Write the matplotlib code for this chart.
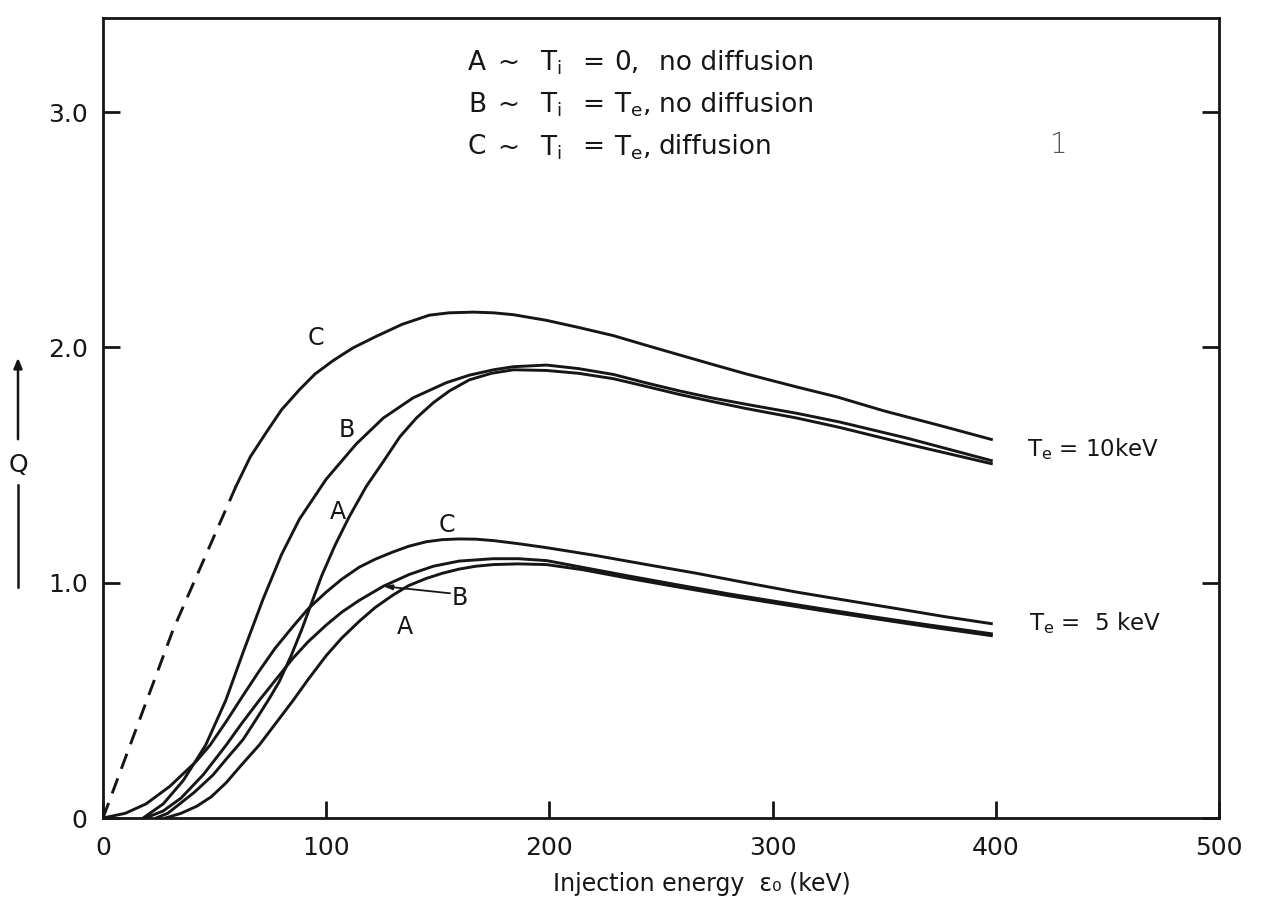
import matplotlib
matplotlib.use("Agg")
import matplotlib.pyplot as plt
from matplotlib.patches import FancyArrowPatch
from matplotlib.lines import Line2D

plt.rcParams['font.family'] = ['DejaVu Sans']
plt.rcParams['mathtext.fontset'] = 'dejavusans'

# Injection energy (keV) and Q for each case; Te = 10 keV
energy_C10 = [0, 31.4, 59.6, 66, 73.1, 80, 87.9, 95, 103.1, 112, 122.4, 134, 146.2,
              155, 165.9, 175, 183.9, 198.7, 213, 228.7, 243, 258.3, 273, 288.3,
              310.8, 328.7, 350, 375, 398.0]
Q_C10 = [0, 0.80, 1.41, 1.535, 1.638, 1.735, 1.819, 1.887, 1.944, 1.998, 2.047, 2.098,
         2.137, 2.147, 2.150, 2.147, 2.139, 2.115, 2.085, 2.050, 2.010, 1.968, 1.928,
         1.887, 1.832, 1.79, 1.73, 1.668, 1.609]
n_dashed_C10 = 3  # leading points drawn as a dashed extrapolation

energy_B10 = [18, 27, 36, 46, 55, 63, 71.7, 80, 88, 100, 113.5, 125.6, 139, 153.8,
              164.1, 175, 183.9, 198.7, 213, 228.7, 243, 258.3, 273, 288.3, 310.8,
              330, 360, 398.0]
Q_B10 = [0, 0.06, 0.16, 0.31, 0.50, 0.71, 0.93, 1.12, 1.27, 1.44, 1.59, 1.70, 1.786,
         1.85, 1.882, 1.905, 1.918, 1.925, 1.91, 1.885, 1.85, 1.815, 1.785, 1.758,
         1.72, 1.683, 1.615, 1.519]

energy_A10 = [23.8, 29, 34.1, 41, 49.3, 55.2, 62.8, 68, 74.4, 79, 84.3, 89, 93.3, 98,
              104, 110.3, 118, 125.6, 133, 140.4, 148, 155.2, 164.1, 174, 183.9,
              198.7, 213, 228.7, 243, 258.3, 273, 288.3, 310.8, 330, 360, 398.0]
Q_A10 = [0, 0.02, 0.058, 0.11, 0.183, 0.25, 0.334, 0.41, 0.506, 0.58, 0.69, 0.80,
         0.91, 1.03, 1.16, 1.28, 1.41, 1.515, 1.62, 1.70, 1.765, 1.815, 1.862, 1.89,
         1.905, 1.902, 1.89, 1.867, 1.835, 1.80, 1.77, 1.74, 1.70, 1.66, 1.59, 1.506]

# Te = 5 keV
energy_C5 = [0, 10, 19.3, 30, 41.7, 48, 55.2, 62, 70, 77, 85.2, 92, 100, 107, 114.8,
             122, 130, 137, 144.8, 152, 159.6, 167, 174.9, 186, 198.7, 221.1, 243,
             265.9, 288, 310.8, 333, 355.6, 377, 398.0]
Q_C5 = [0, 0.02, 0.06, 0.135, 0.24, 0.31, 0.41, 0.51, 0.625, 0.72, 0.815, 0.89, 0.96,
        1.015, 1.066, 1.10, 1.131, 1.155, 1.174, 1.183, 1.186, 1.185, 1.179, 1.166,
        1.149, 1.115, 1.078, 1.04, 1.0, 0.96, 0.925, 0.89, 0.856, 0.826]

energy_B5 = [19, 27, 35, 45, 55.2, 62, 70, 77.6, 85.2, 92, 100, 107, 114.8, 125.6,
             137.2, 148, 159.6, 174.9, 186, 198.7, 215, 235.9, 258, 280.7, 303, 325.6,
             348, 370.4, 398.0]
Q_B5 = [0, 0.03, 0.085, 0.185, 0.31, 0.40, 0.50, 0.59, 0.68, 0.75, 0.82, 0.875, 0.925,
        0.985, 1.035, 1.07, 1.092, 1.102, 1.102, 1.094, 1.065, 1.028, 0.99, 0.952,
        0.918, 0.884, 0.851, 0.82, 0.783]

energy_A5 = [28, 35, 42, 48.5, 55.2, 62, 70, 77.6, 85.2, 92, 100, 107, 114.8, 122, 130,
             137, 144.8, 152, 159.6, 167, 174.9, 186, 198.7, 215, 235.9, 258, 280.7,
             303, 325.6, 348, 370.4, 398.0]
Q_A5 = [0, 0.02, 0.05, 0.09, 0.15, 0.225, 0.31, 0.405, 0.50, 0.59, 0.69, 0.765, 0.836,
        0.895, 0.948, 0.988, 1.018, 1.04, 1.058, 1.07, 1.077, 1.08, 1.077, 1.055,
        1.018, 0.981, 0.944, 0.91, 0.876, 0.844, 0.812, 0.775]

x_ticks = [0, 100, 200, 300, 400, 500]
x_ticklabels = ["0", "100", "200", "300", "400", "500"]
y_ticks = [0, 1.0, 2.0, 3.0]
y_ticklabels = ["0", "1.0", "2.0", "3.0"]

W, H = 1264, 907
fig = plt.figure(figsize=(W / 100, H / 100), dpi=100)
ax = fig.add_axes([103 / W, 1 - 818 / H, (1219 - 103) / W, 800 / H])

ink = "#161616"
lw = 2.1

ax.plot(energy_C10[:n_dashed_C10], Q_C10[:n_dashed_C10], color=ink, lw=lw,
        dashes=(5.5, 3.5))
ax.plot(energy_C10[n_dashed_C10 - 1:], Q_C10[n_dashed_C10 - 1:], color=ink, lw=lw,
        solid_joinstyle='round')
for ex, q in [(energy_B10, Q_B10), (energy_A10, Q_A10), (energy_C5, Q_C5),
              (energy_B5, Q_B5), (energy_A5, Q_A5)]:
    ax.plot(ex, q, color=ink, lw=lw, solid_joinstyle='round')

ax.set_xlim(0, 500)
ax.set_ylim(0, 3.4)
ax.set_xticks(x_ticks)
ax.set_xticklabels(x_ticklabels)
ax.set_yticks(y_ticks)
ax.set_yticklabels(y_ticklabels)
for s in ax.spines.values():
    s.set_linewidth(2.0)
    s.set_color(ink)
ax.tick_params(axis='both', direction='in', length=12, width=2.0, color=ink,
               labelsize=18, labelcolor=ink)
ax.tick_params(axis='x', pad=13)
ax.tick_params(axis='y', pad=11, right=True)

ax.set_xlabel("Injection energy  \u03b5\u2080 (keV)", fontsize=17, color=ink)
ax.xaxis.set_label_coords((702 - 103) / 1116, -0.068)

# Q with an upward arrow to the left of the axis
fig.text(18 / W, 1 - 465 / H, "Q", fontsize=18, ha='center', va='center', color=ink)
fig.add_artist(FancyArrowPatch(
    (18 / W, 1 - 442 / H), (18 / W, 1 - 355 / H), transform=fig.transFigure,
    arrowstyle='-|>,head_length=6,head_width=2.5', lw=1.8, color=ink))
fig.add_artist(Line2D([18 / W, 18 / W], [1 - 587 / H, 1 - 485 / H],
                      transform=fig.transFigure, lw=1.8, color=ink))

# curve letters
lab = dict(fontsize=17, color=ink, ha='center', va='center')
ax.text(95.5, 2.04, "C", **lab)
ax.text(109.3, 1.65, "B", **lab)
ax.text(105.3, 1.30, "A", **lab)
ax.text(154.2, 1.245, "C", **lab)
ax.text(160.0, 0.935, "B", **lab)
ax.text(135.3, 0.81, "A", **lab)
ax.annotate("", xy=(125.6, 0.985), xytext=(155.5, 0.955),
            arrowprops=dict(arrowstyle='-|>,head_length=0.5,head_width=0.15',
                            lw=1.3, color=ink, shrinkA=0, shrinkB=0))

# temperature labels at the curve ends
ax.text(414, 1.57, r"T$_\mathregular{e}$ = 10keV", fontsize=16.5, color=ink,
        ha='left', va='center')
ax.text(415, 0.83, r"T$_\mathregular{e}$ =  5 keV", fontsize=16.5, color=ink,
        ha='left', va='center')

# key to the curve letters
key_y = [3.21, 3.03, 2.85]
key_letters = ["A", "B", "C"]
key_rhs = ["0,", r"T$_\mathregular{e}$,", r"T$_\mathregular{e}$,"]
key_text = ["no diffusion", "no diffusion", "diffusion"]
kf = dict(fontsize=19, color=ink, va='center', ha='left')
for yk, L, r, t in zip(key_y, key_letters, key_rhs, key_text):
    ax.text(163.5, yk, L, **kf)
    ax.text(176.5, yk, "~", **kf)
    ax.text(196.0, yk, r"T$_\mathregular{i}$", **kf)
    ax.text(214.5, yk, "=", **kf)
    ax.text(229.0, yk, r, **kf)
    ax.text(249.0, yk, t, **kf)

ax.text(428, 2.86, "1", fontsize=20, color="#555555", ha='center', va='center',
        fontweight='light')

fig.savefig("out.png", dpi=100, facecolor='white')
